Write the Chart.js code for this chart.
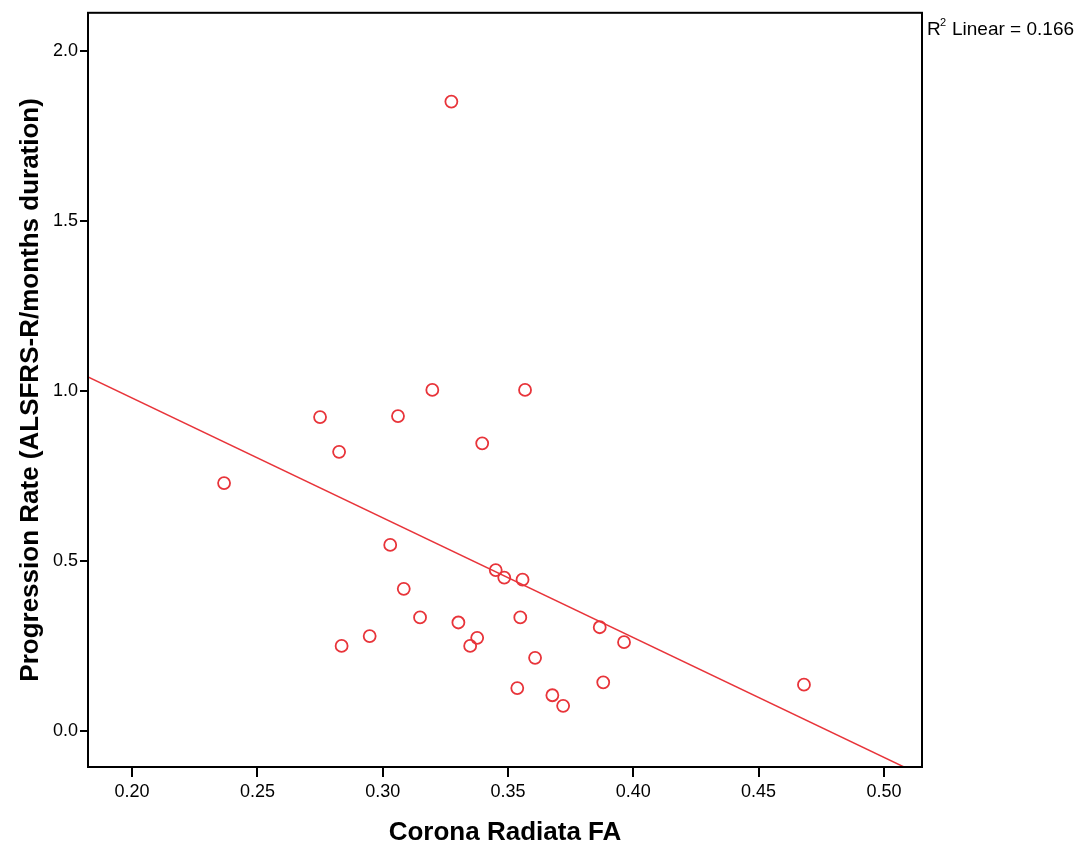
<!DOCTYPE html>
<html lang="en">
<head>
    <meta charset="UTF-8">
    <title>Corona Radiata FA vs Progression Rate</title>
    <style>
        body { margin: 0; background: #fff; }
        #wrap { width: 1088px; height: 851px; }
    </style>
</head>
<body>
    <script src="https://cdn.jsdelivr.net/npm/chart.js"></script>
    <div id="wrap"><canvas id="scatter" width="1088" height="851"></canvas></div>
    <script>
        // values
        const faValues = [0.2367, 0.2750, 0.2826, 0.2836, 0.2948, 0.3030, 0.3061, 0.3084, 0.3149, 0.3198,
                          0.3274, 0.3302, 0.3349, 0.3377, 0.3397, 0.3451, 0.3485, 0.3537, 0.3549, 0.3558,
                          0.3568, 0.3608, 0.3677, 0.3720, 0.3866, 0.3880, 0.3963, 0.4681];
        const rateValues = [0.729, 0.923, 0.821, 0.250, 0.279, 0.547, 0.926, 0.418, 0.334, 1.003,
                            1.851, 0.319, 0.250, 0.274, 0.846, 0.473, 0.451, 0.126, 0.334, 0.445,
                            1.003, 0.215, 0.105, 0.074, 0.305, 0.143, 0.261, 0.136];
        // fit line ends, where it meets the frame
        const fitX = [0.1824, 0.508];
        const fitY = [1.041, -0.106];
        const xTicks = [0.20, 0.25, 0.30, 0.35, 0.40, 0.45, 0.50];
        const yTicks = [0.0, 0.5, 1.0, 1.5, 2.0];
        const r2Label = 'Linear = 0.166';

        const red = 'rgb(232, 52, 58)';
        const font = '"Liberation Sans", Arial, sans-serif';

        const points = faValues.map((v, i) => ({ x: v, y: rateValues[i] }));
        const fitLine = fitX.map((v, i) => ({ x: v, y: fitY[i] }));

        // frame round the plot and the R² note
        const framePlugin = {
            id: 'frame',
            afterDraw(chart) {
                const a = chart.chartArea;
                const c = chart.ctx;
                c.save();
                c.strokeStyle = '#000';
                c.lineWidth = 2;
                c.strokeRect(a.left, a.top, a.right - a.left, a.bottom - a.top);
                c.fillStyle = '#000';
                c.textBaseline = 'alphabetic';
                c.font = '19px ' + font;
                c.fillText('R', a.right + 5, 35);
                c.font = '11px ' + font;
                c.fillText('2', a.right + 18, 26);
                c.font = '19px ' + font;
                c.fillText(r2Label, a.right + 30, 35);
                c.restore();
            }
        };

        new Chart(document.getElementById('scatter').getContext('2d'), {
            type: 'scatter',
            data: {
                datasets: [{
                    data: points,
                    borderColor: red,
                    backgroundColor: 'rgba(255,255,255,0)',
                    borderWidth: 1.8,
                    pointRadius: 6,
                    pointHoverRadius: 6
                }, {
                    type: 'line',
                    data: fitLine,
                    borderColor: red,
                    borderWidth: 1.4,
                    pointRadius: 0,
                    fill: false
                }]
            },
            options: {
                responsive: false,
                animation: false,
                plugins: { legend: { display: false }, tooltip: { enabled: false } },
                layout: { padding: { left: 0, top: 12, right: 166, bottom: 0 } },
                scales: {
                    x: {
                        type: 'linear',
                        min: 0.1824,
                        max: 0.5152,
                        afterBuildTicks: s => { s.ticks = xTicks.map(v => ({ value: v })); },
                        afterFit: s => { s.height = 84; },
                        ticks: {
                            color: '#000',
                            font: { family: font, size: 18 },
                            padding: 4,
                            maxRotation: 0,
                            callback: v => v.toFixed(2)
                        },
                        grid: { drawOnChartArea: false, drawTicks: true, tickLength: 10, color: '#000', lineWidth: 2 },
                        border: { display: true, color: '#000', width: 2 },
                        title: {
                            display: true,
                            text: 'Corona Radiata FA',
                            color: '#000',
                            font: { family: font, size: 26, weight: 'bold' },
                            padding: { top: 4, bottom: 3 }
                        }
                    },
                    y: {
                        type: 'linear',
                        min: -0.106,
                        max: 2.112,
                        afterBuildTicks: s => { s.ticks = yTicks.map(v => ({ value: v })); },
                        afterFit: s => { s.width = 88; },
                        ticks: {
                            color: '#000',
                            font: { family: font, size: 18 },
                            padding: 2,
                            callback: v => v.toFixed(1)
                        },
                        grid: { drawOnChartArea: false, drawTicks: true, tickLength: 8, color: '#000', lineWidth: 2 },
                        border: { display: true, color: '#000', width: 2 },
                        title: {
                            display: true,
                            text: 'Progression Rate (ALSFRS-R/months duration)',
                            color: '#000',
                            font: { family: font, size: 26, weight: 'bold' },
                            padding: { top: 15, bottom: 0 }
                        }
                    }
                }
            },
            plugins: [framePlugin]
        });
    </script>
</body>
</html>
